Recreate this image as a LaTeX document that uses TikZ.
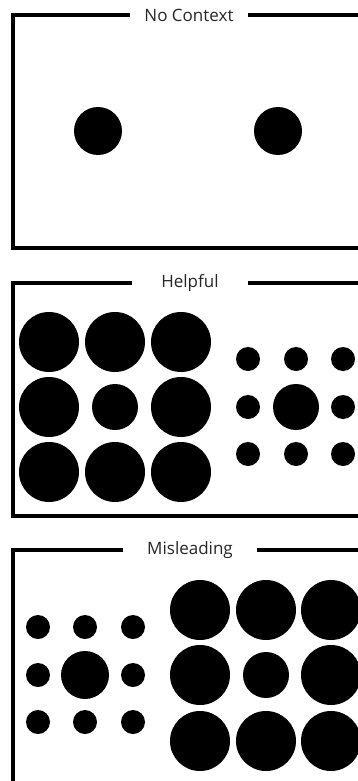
\documentclass[tikz,border=0pt]{standalone}
\usepackage{fontspec}
\setmainfont{Open Sans}
\usetikzlibrary{positioning}

\begin{document}
\begin{tikzpicture}[x=1pt, y=-1pt,
            frm/.style={line width=4pt, line join=miter},
            ttl/.style={fill=white, inner sep=0pt, minimum height=14pt,
                        text=black!85, font=\fontsize{17}{19}\selectfont},
            big/.style={fill=black},
            sml/.style={fill=black}
          ]
          \clip (0,0) rectangle (358,781);
          \fill[white] (0,0) rectangle (358,781);

          % no context
          \node[ttl, minimum width=118pt] (nc) at (189,15) {No Context};
          \draw[frm] (nc.west) -| (12.5,248) -- (370,248);
          \draw[frm] (nc.east) -- (370,15);
          \fill[big] (98,131) circle (24pt);
          \fill[big] (278,131) circle (24pt);

          % helpful
          \node[ttl, minimum width=115pt] (hp) at (190,283) {Helpful};
          \draw[frm] (hp.west) -| (12.5,516) -- (370,516);
          \draw[frm] (hp.east) -- (370,283);
          \foreach \cx/\cy in {49/342, 115/342, 181/342, 49/407, 181/407,
                               49/472, 115/472, 181/472}
            \fill[big] (\cx,\cy) circle (30pt);
          \fill[big] (115,407) circle (23pt);
          \foreach \cx/\cy in {248/359, 296/359, 343/359, 248/407, 343/407,
                               248/454, 296/454, 343/454}
            \fill[sml] (\cx,\cy) circle (12pt);
          \fill[big] (296,407) circle (23pt);

          % misleading
          \node[ttl, minimum width=134pt] (ml) at (190,550) {Misleading};
          \draw[frm] (ml.west) -| (12.5,800);
          \draw[frm] (ml.east) -- (370,550);
          \foreach \cx/\cy in {38/627, 85/627, 133/627, 38/675, 133/675,
                               38/722, 85/722, 133/722}
            \fill[sml] (\cx,\cy) circle (12pt);
          \fill[big] (85,675) circle (24pt);
          \foreach \cx/\cy in {200/610, 266/610, 331/610, 200/675, 331/675,
                               200/741, 266/741, 331/741}
            \fill[big] (\cx,\cy) circle (30pt);
          \fill[big] (266,675) circle (23pt);
        \end{tikzpicture}
\end{document}
